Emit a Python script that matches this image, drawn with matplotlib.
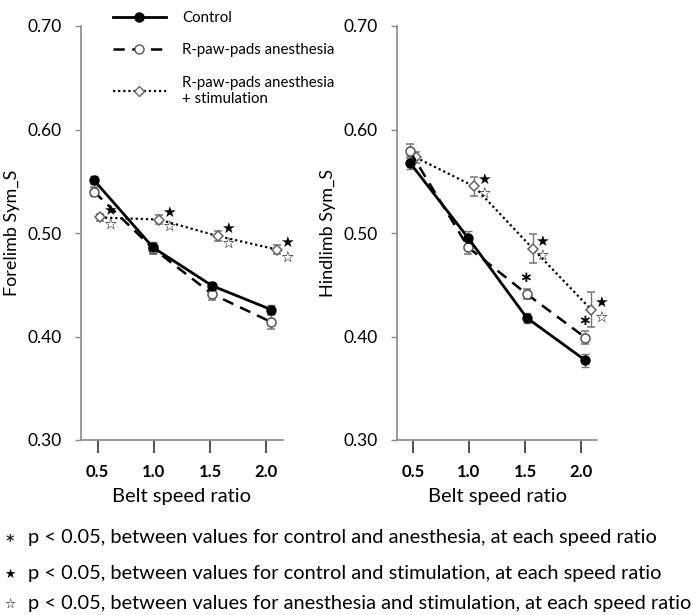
import matplotlib
matplotlib.use("Agg")
import matplotlib.pyplot as plt
from matplotlib.lines import Line2D

# Belt speed ratios
speeds = [0.5, 1.0, 1.5, 2.0]
speed_labels = ["0.5", "1.0", "1.5", "2.0"]

# Forelimb Sym_S (mean, error)
fore_control = [0.551, 0.486, 0.449, 0.426]
fore_control_err = [0.004, 0.005, 0.004, 0.004]
fore_anes = [0.540, 0.485, 0.441, 0.414]
fore_anes_err = [0.004, 0.005, 0.006, 0.007]
fore_stim = [0.515, 0.513, 0.497, 0.484]
fore_stim_err = [0.003, 0.004, 0.005, 0.004]

# Hindlimb Sym_S (mean, error)
hind_control = [0.568, 0.495, 0.418, 0.377]
hind_control_err = [0.006, 0.007, 0.005, 0.006]
hind_anes = [0.579, 0.486, 0.441, 0.399]
hind_anes_err = [0.007, 0.006, 0.005, 0.006]
hind_stim = [0.573, 0.545, 0.485, 0.426]
hind_stim_err = [0.005, 0.009, 0.014, 0.017]

# indices of speed ratios with p < 0.05
fore_sig_ctrl_anes = []
fore_sig_ctrl_stim = [0, 1, 2, 3]
fore_sig_anes_stim = [0, 1, 2, 3]
hind_sig_ctrl_anes = [2, 3]
hind_sig_ctrl_stim = [1, 2, 3]
hind_sig_anes_stim = [1, 2, 3]

footnotes = [
    ("\u2217", "p < 0.05, between values for control and anesthesia, at each speed ratio"),
    ("\u2605", "p < 0.05, between values for control and stimulation, at each speed ratio"),
    ("\u2606", "p < 0.05, between values for anesthesia and stimulation, at each speed ratio"),
]

FONT = "Lato"
SPINE = "#8a8a8a"
ERR = "#777777"
STIM_SHIFT = 0.05
TICK_POS = [0.53, 1.005, 1.485, 1.96]


def plot_panel(ax, ctrl, ctrl_err, anes, anes_err, stim, stim_err,
               sig_ca, sig_cs, sig_as, ylabel):
    stim_x = [s + STIM_SHIFT for s in speeds]
    eb = dict(ecolor=ERR, elinewidth=1.0, capsize=3, capthick=1.0, zorder=3)
    ax.errorbar(stim_x, stim, yerr=stim_err, color="black", ls=(0, (1, 1.3)), lw=1.6,
                marker="D", ms=5.5, mfc="white", mec="#666666", mew=1.1, **eb)
    ax.errorbar(speeds, anes, yerr=anes_err, color="black", ls=(0, (4.5, 3)), lw=1.8,
                marker="o", ms=6.5, mfc="white", mec="#555555", mew=1.1, **eb)
    ax.errorbar(speeds, ctrl, yerr=ctrl_err, color="black", ls="-", lw=2.0,
                marker="o", ms=6.5, mfc="black", mec="black", **eb)

    # significance marks
    for i in sig_ca:
        ax.text(speeds[i] - 0.01, anes[i] + 0.016, "\u2217", ha="center", va="center",
                fontsize=11, fontweight="bold", family="DejaVu Sans")
    for i in sig_cs:
        ax.text(speeds[i] + 0.13, stim[i] + 0.007, "\u2605", ha="center", va="center",
                fontsize=11, family="DejaVu Sans")
    for i in sig_as:
        ax.text(speeds[i] + 0.13, stim[i] - 0.008, "\u2606", ha="center", va="center",
                fontsize=11, fontweight="bold", family="DejaVu Sans")

    ax.set_xlim(0.39, 2.10)
    ax.set_ylim(0.30, 0.70)
    ax.set_yticks([0.30, 0.40, 0.50, 0.60, 0.70])
    ax.set_yticklabels(["0.30", "0.40", "0.50", "0.60", "0.70"], fontsize=12.5, family=FONT)
    ax.set_xticks(TICK_POS)
    ax.set_xticklabels(speed_labels, fontsize=12, fontweight="bold", family=FONT)
    for side in ("top", "right"):
        ax.spines[side].set_visible(False)
    for side in ("left", "bottom"):
        ax.spines[side].set_color(SPINE)
        ax.spines[side].set_linewidth(1.2)
    ax.tick_params(axis="y", length=4, width=1.0, color=SPINE, pad=10)
    ax.tick_params(axis="x", length=9, width=1.2, color="#333333", pad=8)
    ax.set_xlabel("Belt speed ratio", fontsize=14.5, family=FONT, labelpad=6)
    ax.set_ylabel(ylabel, fontsize=13, family=FONT, labelpad=5)


fig = plt.figure(figsize=(7.0, 6.15), dpi=100)
ax1 = fig.add_axes([81 / 700, 1 - 440 / 615, 202 / 700, 414 / 615])
ax2 = fig.add_axes([397 / 700, 1 - 440 / 615, 200 / 700, 414 / 615])

plot_panel(ax1, fore_control, fore_control_err, fore_anes, fore_anes_err,
           fore_stim, fore_stim_err, fore_sig_ctrl_anes, fore_sig_ctrl_stim,
           fore_sig_anes_stim, "Forelimb Sym_S")
plot_panel(ax2, hind_control, hind_control_err, hind_anes, hind_anes_err,
           hind_stim, hind_stim_err, hind_sig_ctrl_anes, hind_sig_ctrl_stim,
           hind_sig_anes_stim, "Hindlimb Sym_S")

handles = [
    Line2D([], [], color="black", lw=2.0, marker="o", ms=6.5, mfc="black"),
    Line2D([], [], color="black", lw=1.8, ls=(0, (4.5, 3)), marker="o", ms=6.5,
           mfc="white", mec="#555555"),
    Line2D([], [], color="black", lw=1.6, ls=(0, (1, 1.3)), marker="D", ms=5.5,
           mfc="white", mec="#666666"),
]
labels = ["Control", "R-paw-pads anesthesia", "R-paw-pads anesthesia\n+ stimulation"]
fig.legend(handles, labels, loc="upper left", bbox_to_anchor=(113 / 700, 1 - 11 / 615),
           frameon=False, borderpad=0, borderaxespad=0, handlelength=3.5,
           handletextpad=1.1, labelspacing=1.22, prop={"family": FONT, "size": 10.8})

for k, (sym, text) in enumerate(footnotes):
    y = 1 - [538, 574, 604][k] / 615
    fig.text(10 / 700, y, sym, ha="center", va="center", fontsize=9, family="DejaVu Sans")
    fig.text(28 / 700, y, text, ha="left", va="center", fontsize=14.4, family=FONT)

fig.savefig("out.png", dpi=100)
